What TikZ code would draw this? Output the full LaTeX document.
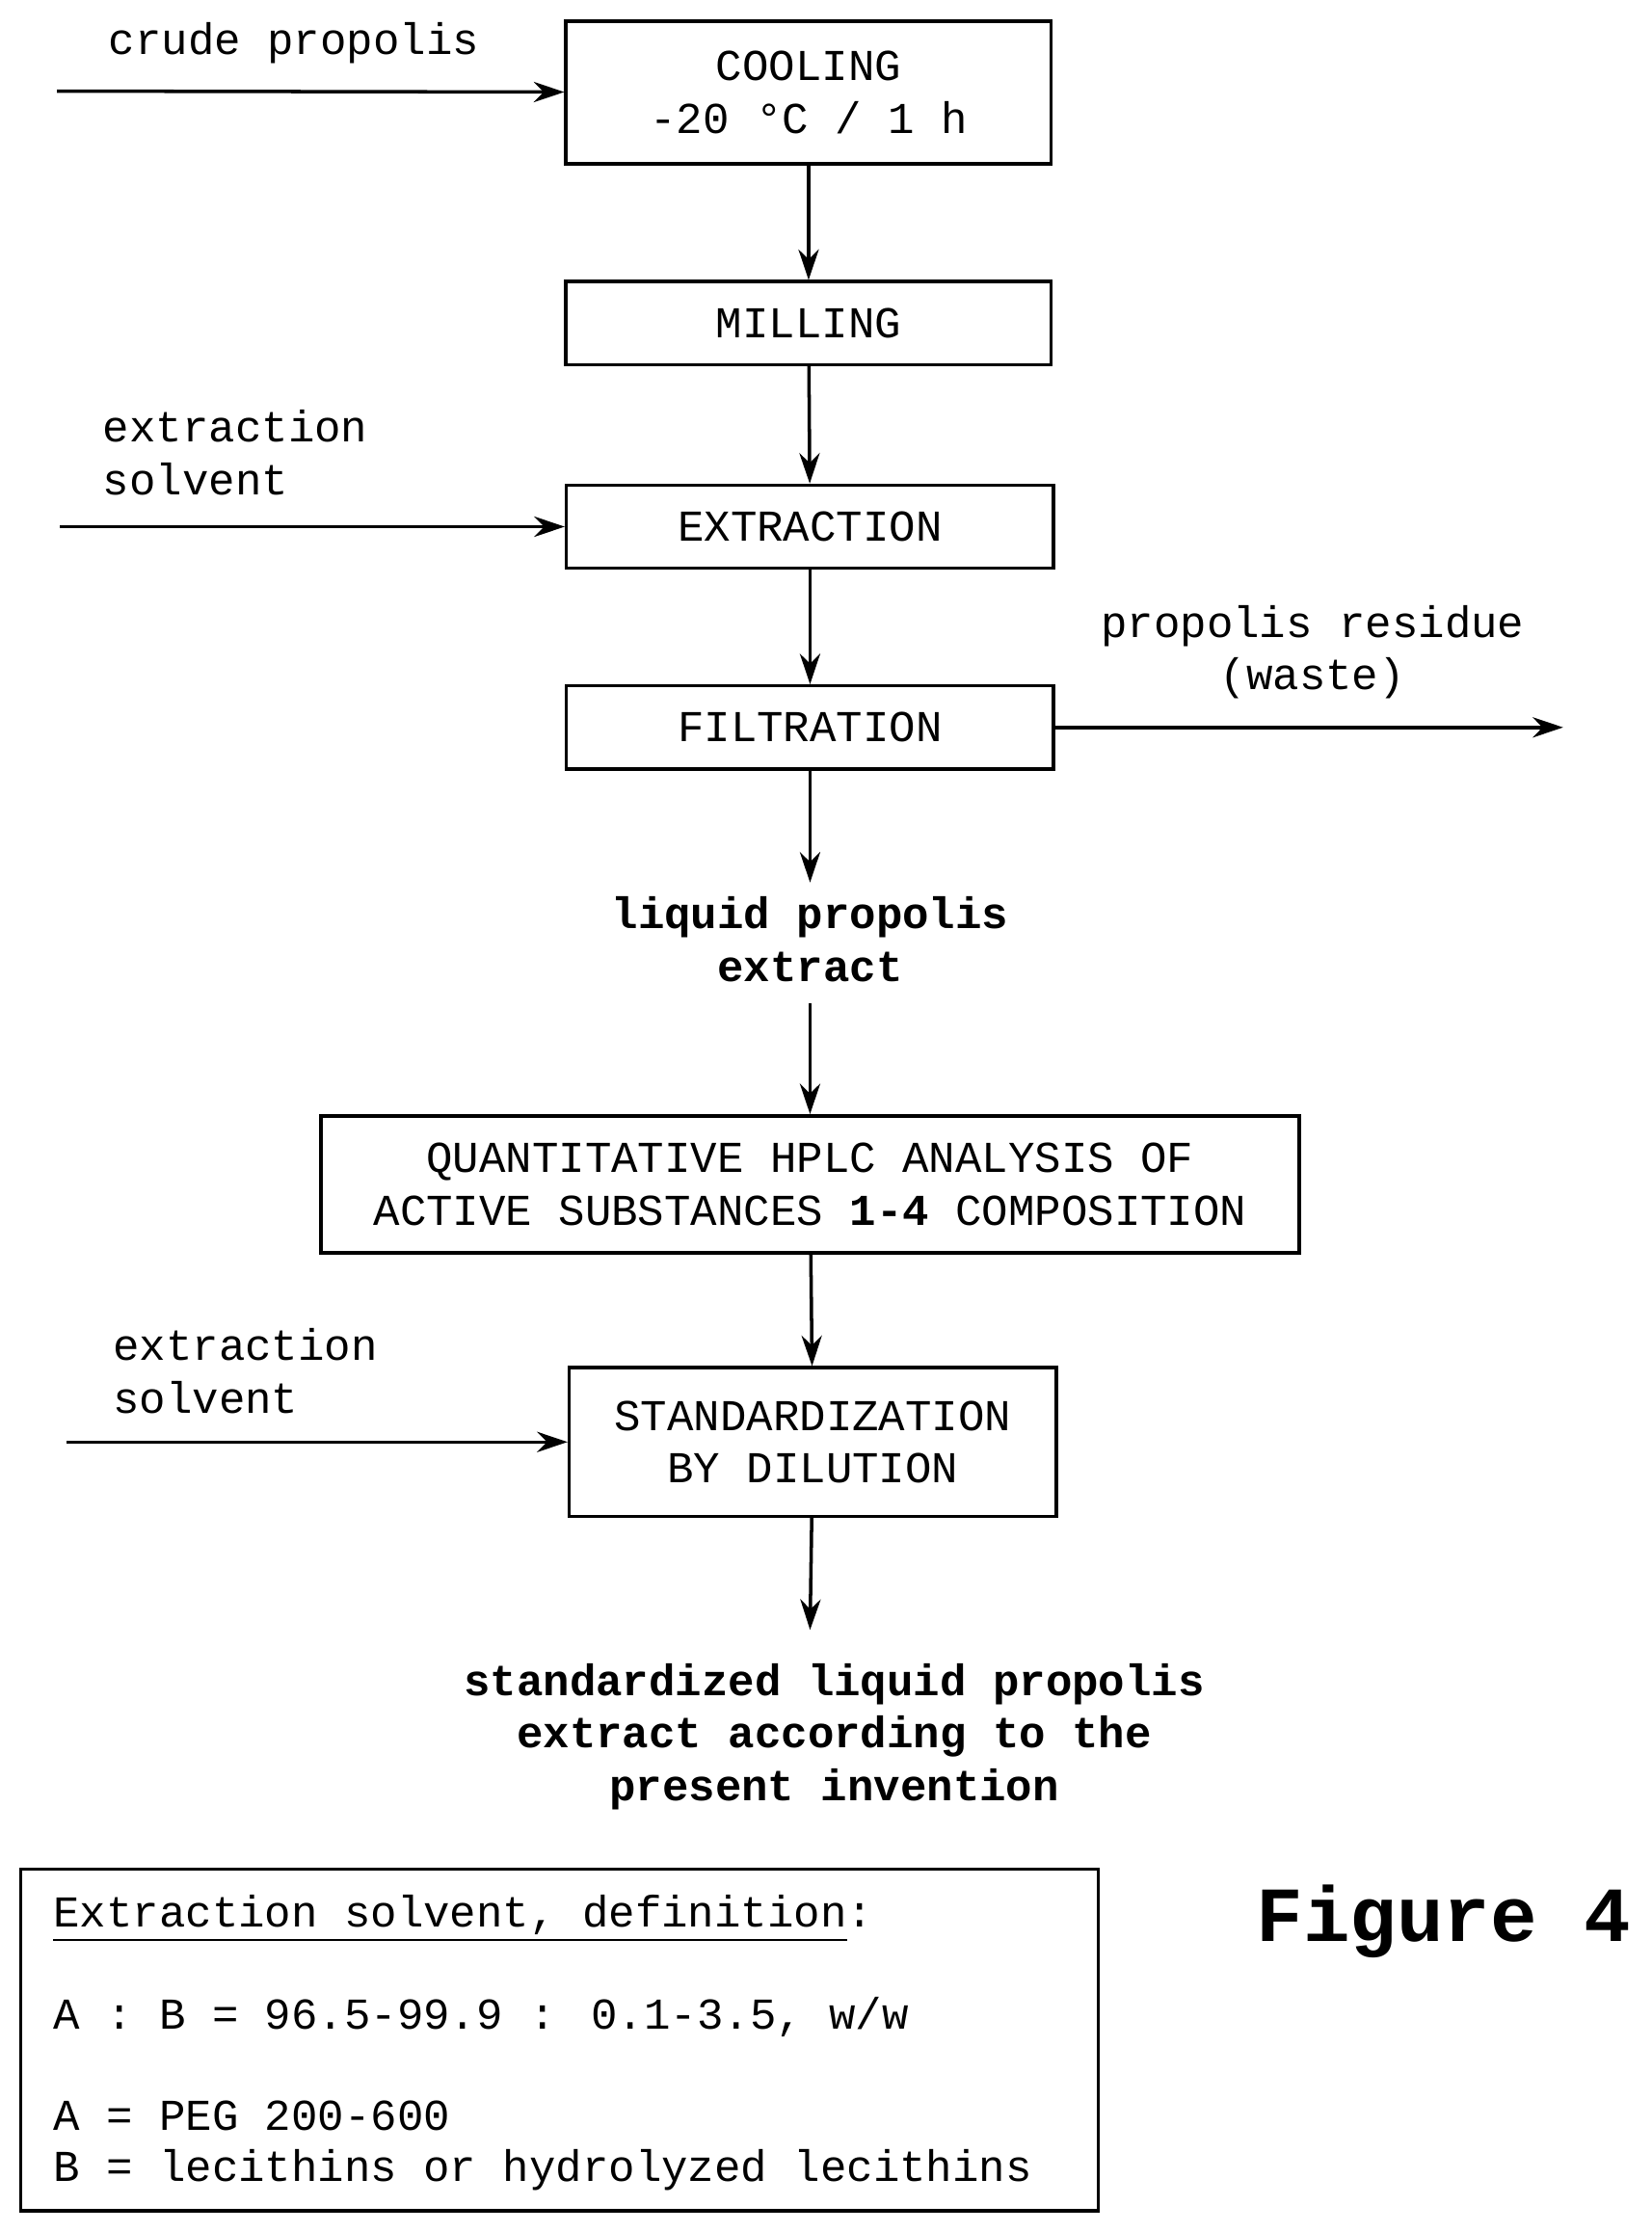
\documentclass[tikz,border=0pt]{standalone}
\usepackage{fontspec}
\setmainfont{Liberation Mono}
\usetikzlibrary{arrows.meta}
\begin{document}
\begin{tikzpicture}[
		x=0.01476cm, y=-0.01476cm,
		every node/.style={font=\fontsize{13}{15.5}\selectfont, align=center},
		procbox/.style={draw, line width=1pt, inner sep=0pt},
		flow/.style={-{Stealth[length=9pt, width=6pt]}, line width=1pt}
	]
	\useasboundingbox (0,0) rectangle (1160,1568);
	% process steps
	\node[procbox, minimum width=5.03cm, minimum height=1.48cm] (cool) at (568,65) {COOLING\\-20 °C / 1 h};
	\node[procbox, minimum width=5.03cm, minimum height=0.86cm] (mill) at (568,227) {MILLING};
	\node[procbox, minimum width=5.05cm, minimum height=0.86cm] (extr) at (569,370) {EXTRACTION};
	\node[procbox, minimum width=5.05cm, minimum height=0.86cm] (filt) at (569,511) {FILTRATION};
	\node[font=\fontsize{13}{15.5}\selectfont\bfseries] (liq) at (569,660) {liquid propolis\\extract};
	\node[procbox, minimum width=10.14cm, minimum height=1.42cm] (hplc) at (569,832) {QUANTITATIVE HPLC ANALYSIS OF\\ACTIVE SUBSTANCES \textbf{1-4} COMPOSITION};
	\node[procbox, minimum width=5.05cm, minimum height=1.54cm] (std) at (571,1013) {STANDARDIZATION\\BY DILUTION};
	\node[font=\fontsize{13}{15.5}\selectfont\bfseries] (final) at (586,1220) {standardized liquid propolis\\extract according to the\\present invention};
	% inputs and outputs
	\coordinate (in1) at (40,64);
	\coordinate (in2) at (42,370);
	\coordinate (in3) at (47,1013);
	\coordinate (waste) at (1098,511);
	\coordinate (liqin) at (569,620);
	\coordinate (liqout) at (569,705);
	\coordinate (finin) at (569,1145);
	\node[anchor=west] (lcrude) at (68,30) {crude propolis};
	\node[anchor=west, align=left] (lsolv1) at (64,318) {extraction\\solvent};
	\node[anchor=west, align=left] (lsolv2) at (71,963) {extraction\\solvent};
	\node (lwaste) at (922,458) {propolis residue\\(waste)};
	% connectors
	\draw[flow] (in1) -- (cool);
	\draw[flow] (cool) -- (mill);
	\draw[flow] (mill) -- (extr);
	\draw[flow] (in2) -- (extr);
	\draw[flow] (extr) -- (filt);
	\draw[flow] (filt) -- (waste);
	\draw[flow] (filt) -- (liqin);
	\draw[flow] (liqout) -- (hplc);
	\draw[flow] (hplc) -- (std);
	\draw[flow] (in3) -- (std);
	\draw[flow] (std) -- (finin);
	% legend
	\node[procbox, minimum width=11.17cm, minimum height=3.54cm] (legend) at (393,1433) {};
	\node[anchor=north west, align=left, inner sep=0pt, font=\fontsize{13}{15}\selectfont] (ltext) at (37,1331) {\underline{Extraction solvent, definition}:\\[15pt]A : B = 96.5-99.9 : 0.1-3.5, w/w\\[15pt]A = PEG 200-600\\B = lecithins or hydrolyzed lecithins};
	\node[font=\fontsize{23}{26}\selectfont\bfseries] (fig) at (1014,1350) {Figure 4};
\end{tikzpicture}
\end{document}
